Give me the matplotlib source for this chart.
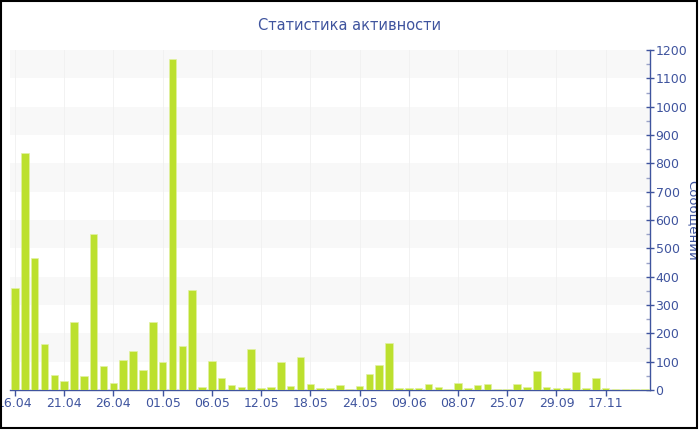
import numpy as np
import matplotlib
matplotlib.use("Agg")
import matplotlib.pyplot as plt
from matplotlib.patches import Rectangle

# messages per period
counts = [359, 835, 467, 162, 53, 31, 240, 51, 552, 86,
          25, 107, 138, 71, 241, 98, 1168, 154, 354, 11,
          104, 44, 18, 10, 146, 8, 9, 98, 13, 115,
          22, 7, 8, 18, 4, 15, 56, 88, 167, 8,
          6, 8, 20, 11, 4, 25, 6, 16, 22, 4,
          5, 20, 12, 66, 11, 6, 6, 65, 6, 44,
          8, 4, 4, 4, 4]
tick_labels = ["16.04", "21.04", "26.04", "01.05", "06.05", "12.05", "18.05",
               "24.05", "09.06", "08.07", "25.07", "29.09", "17.11"]
label_step = 5

title = "Статистика активности"
ylabel = "Сообщений"

blue = "#3f549e"
bar_col = "#bce02e"

fig = plt.figure(figsize=(7, 4.3), dpi=100)
ax = fig.add_axes([10 / 700, 40 / 430, 640 / 700, 340 / 430])

x = np.arange(len(counts))
ax.bar(x, counts, width=0.76, color=bar_col, edgecolor="#e2f1a4", linewidth=0.5, zorder=3)

ax.set_xlim(-0.5, len(counts) - 0.5)
ax.set_ylim(0, 1200)

# alternating horizontal bands
for lo in range(100, 1200, 200):
    ax.axhspan(lo, lo + 100, color="#f8f8f8", lw=0, zorder=0)

ax.set_xticks(x[::label_step])
ax.set_xticklabels(tick_labels)
ax.grid(axis="x", color="#f0f0f0", lw=0.6, zorder=1)

ax.yaxis.tick_right()
ax.yaxis.set_label_position("right")
ax.set_yticks(np.arange(0, 1201, 100))
ax.set_yticks(np.arange(50, 1200, 100), minor=True)
ax.tick_params(axis="y", which="major", direction="inout", length=6, width=1,
               colors=blue, labelsize=9, pad=1)
ax.tick_params(axis="y", which="minor", direction="in", length=3, width=1, color="#9aa3c8")
ax.tick_params(axis="x", direction="out", length=4, width=1, colors=blue, labelsize=9, pad=1)

for s in ["top", "left"]:
    ax.spines[s].set_visible(False)
for s in ["right", "bottom"]:
    ax.spines[s].set_color(blue)
    ax.spines[s].set_linewidth(1)

ax.set_ylabel(ylabel, rotation=270, color=blue, fontsize=9.5, labelpad=4)
ax.yaxis.set_label_coords(1.076, 0.5)

fig.text(0.5, 1 - 25 / 430, title, ha="center", va="center", color=blue, fontsize=10.5)

# outer frame, cutting off whatever sticks out on the right
fig.patches.append(Rectangle((697 / 700, 0), 3 / 700, 1, transform=fig.transFigure,
                             facecolor="white", edgecolor="none", zorder=10))
fig.patches.append(Rectangle((0.5 / 700, 2.5 / 430), 696.5 / 700, 427 / 430,
                             transform=fig.transFigure, fill=False,
                             edgecolor="black", lw=1.5, zorder=11))

fig.savefig("out.png", dpi=100)
